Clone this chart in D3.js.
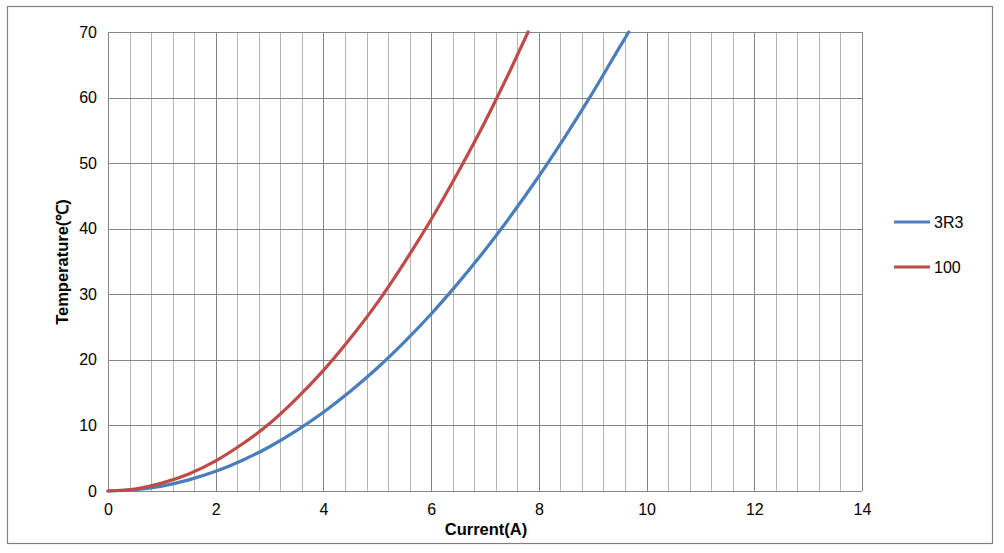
<!DOCTYPE html>
<html><head><meta charset="utf-8">
<script src="https://cdn.jsdelivr.net/npm/d3@7"></script>
<style>body{margin:0;background:#fff;} text{font-family:"Liberation Sans",Arial,sans-serif;}</style>
</head><body>
<svg id="c" width="1004" height="553"></svg>
<script>
const current3R3 = [0,0.5,1,1.5,2,2.5,3,3.5,4,4.5,5,5.5,6,6.5,7,7.5,8,8.5,9,9.5,9.67];
const temp3R3    = [0,0.2,0.75,1.7,3.0,4.7,6.75,9.2,12,15.2,18.75,22.7,27,31.7,36.75,42.2,48,54.2,60.75,67.7,70];
const current100 = [0,0.5,1,1.5,2,2.5,3,3.5,4,4.5,5,5.5,6,6.5,7,7.5,7.8];
const temp100    = [0,0.3,1.2,2.6,4.6,7.2,10.3,14.1,18.4,23.3,28.7,34.8,41.4,48.6,56.3,64.7,70];
const seriesNames = ["3R3","100"];
const xTicks = [0,2,4,6,8,10,12,14];
const yTicks = [0,10,20,30,40,50,60,70];
const xTitle = "Current(A)";
const yTitle = "Temperature(℃)";

const svg = d3.select("#c");
const L=108, R=862, T=32, B=491;
const x = d3.scaleLinear().domain([0,14]).range([L,R]);
const y = d3.scaleLinear().domain([0,70]).range([B,T]);

svg.append("rect").attr("x",7.5).attr("y",6.5).attr("width",985).attr("height",537)
  .attr("fill","#fff").attr("stroke","#808080").attr("stroke-width",1.2);

// minor vertical grid
const minor = d3.range(0,14.001,0.4).filter(v=>Math.abs(v/2-Math.round(v/2))>1e-6);
svg.append("g").selectAll("line").data(minor).join("line")
  .attr("x1",d=>Math.round(x(d))+0.5).attr("x2",d=>Math.round(x(d))+0.5)
  .attr("y1",T).attr("y2",B).attr("stroke","#b4b4b4").attr("stroke-width",1);
// major vertical grid
svg.append("g").selectAll("line").data(xTicks).join("line")
  .attr("x1",d=>Math.round(x(d))+0.5).attr("x2",d=>Math.round(x(d))+0.5)
  .attr("y1",T).attr("y2",B).attr("stroke","#868686").attr("stroke-width",1);
// horizontal grid
svg.append("g").selectAll("line").data(yTicks).join("line")
  .attr("x1",L).attr("x2",R)
  .attr("y1",d=>Math.round(y(d))+0.5).attr("y2",d=>Math.round(y(d))+0.5)
  .attr("stroke","#868686").attr("stroke-width",1);

// axes (tick labels)
const xa = svg.append("g").attr("transform",`translate(0,${B})`)
  .call(d3.axisBottom(x).tickValues(xTicks).tickSize(0).tickPadding(13));
xa.select(".domain").remove();
xa.selectAll("text").attr("font-size",16).attr("fill","#000").style("font-family","Liberation Sans, Arial");
const ya = svg.append("g").attr("transform",`translate(${L},0)`)
  .call(d3.axisLeft(y).tickValues(yTicks).tickSize(0).tickPadding(11));
ya.select(".domain").remove();
ya.selectAll("text").attr("font-size",16).attr("fill","#000").style("font-family","Liberation Sans, Arial");

const line = d3.line().x(d=>x(d[0])).y(d=>y(d[1])).curve(d3.curveMonotoneX);
const colors = ["#4a7ebb","#be4b48"];
const data = [d3.zip(current3R3,temp3R3), d3.zip(current100,temp100)];
svg.append("g").selectAll("path").data(data).join("path")
  .attr("d",line).attr("fill","none").attr("stroke",(d,i)=>colors[i])
  .attr("stroke-width",3.2).attr("stroke-linecap","round");

svg.append("text").attr("x",486).attr("y",535).attr("text-anchor","middle")
  .attr("font-size",16.5).attr("font-weight","bold").text(xTitle);
svg.append("text").attr("transform","translate(68,262) rotate(-90)").attr("text-anchor","middle")
  .attr("font-size",16.5).attr("font-weight","bold").text(yTitle);

// legend
const lg = svg.append("g").selectAll("g").data(seriesNames).join("g")
  .attr("transform",(d,i)=>`translate(894,${222+i*45})`);
lg.append("line").attr("x1",0).attr("x2",36).attr("stroke",(d,i)=>colors[i]).attr("stroke-width",3.2);
lg.append("text").attr("x",40).attr("y",6).attr("font-size",16).text(d=>d);
</script>
</body></html>
